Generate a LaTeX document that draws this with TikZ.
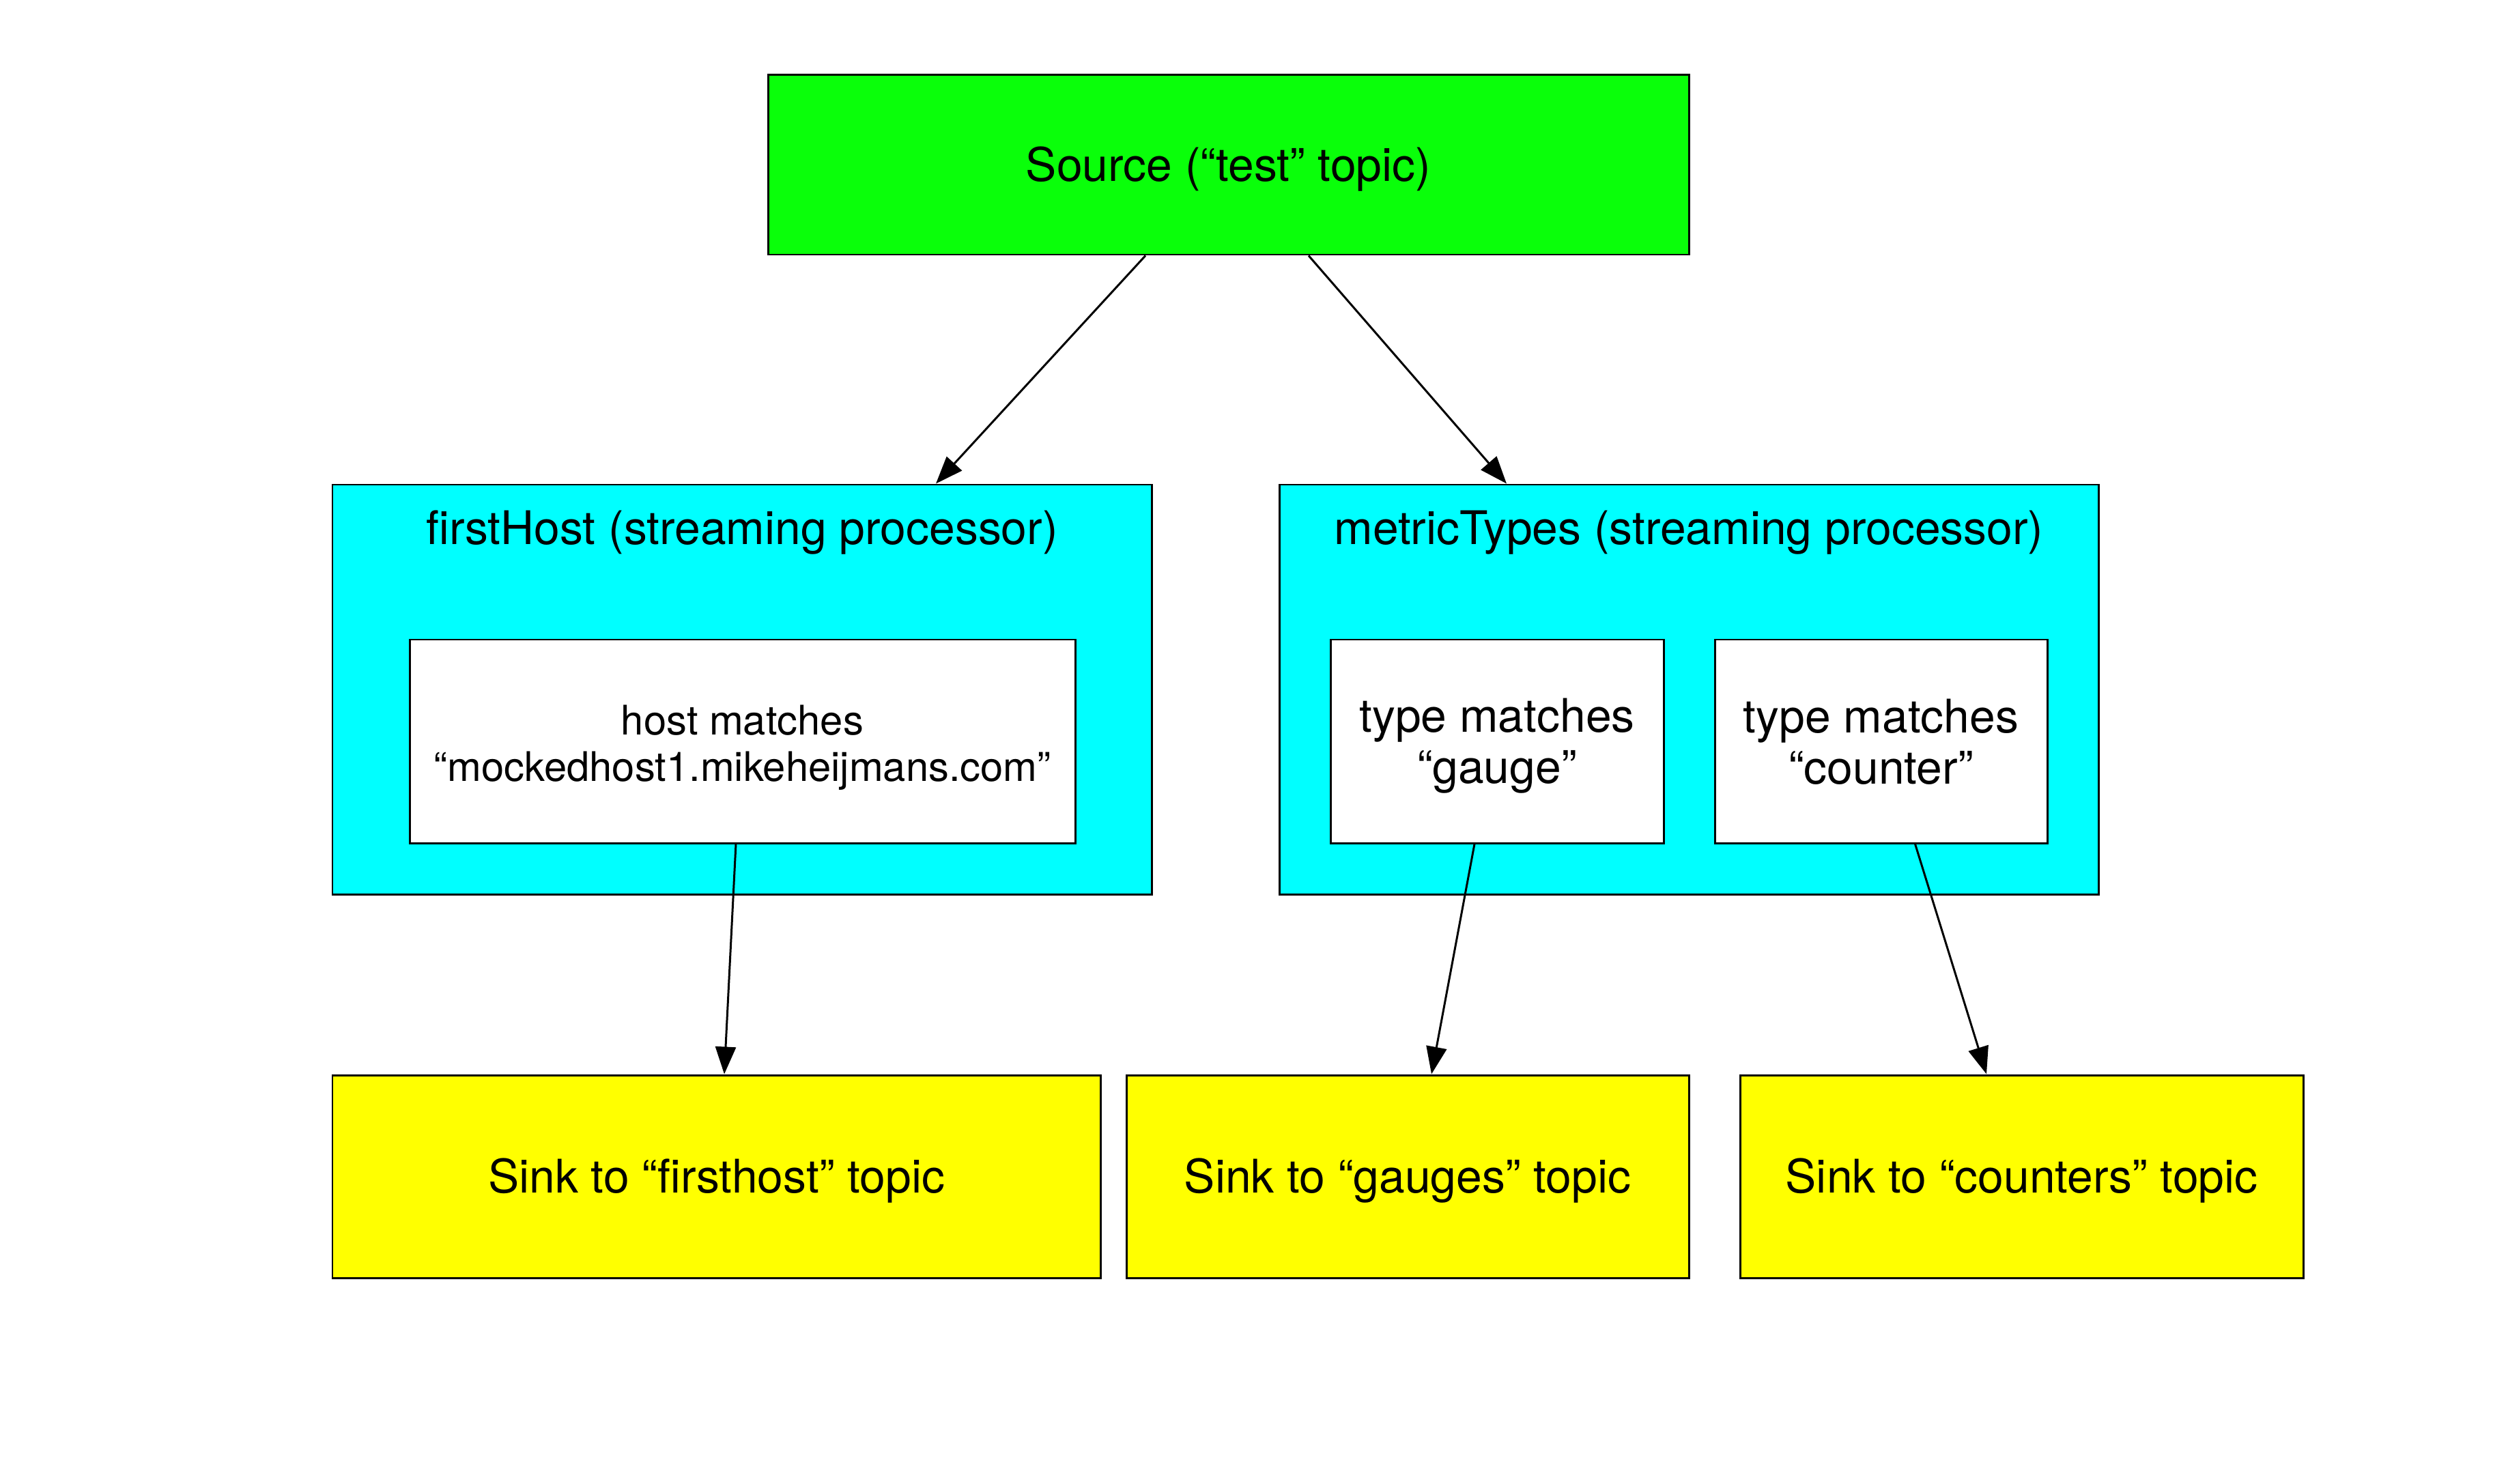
\documentclass[tikz,border=0pt]{standalone}
\usepackage{fontspec}
\setmainfont{TeX Gyre Heros}
\usetikzlibrary{arrows.meta,positioning,calc}
\definecolor{srcgreen}{RGB}{10,255,10}
\definecolor{proccyan}{RGB}{0,255,255}
\definecolor{sinkyellow}{RGB}{255,255,0}
\newcommand\topstrut{\rule{0pt}{18pt}}
\newcommand\botstrut{\rule[-4pt]{0pt}{4pt}}
\begin{document}
\begin{tikzpicture}[every node/.style={font=\fontsize{19.3pt}{21.3pt}\selectfont, inner sep=0pt, align=center},
		box/.style={draw, line width=0.85pt, rectangle},
		flow/.style={-{Triangle[length=0.4cm,width=0.3cm]}, line width=0.85pt}]
				\useasboundingbox (0,0) rectangle (36.74,-21.74);
				\node[box, fill=srcgreen, minimum width=13.49cm, minimum height=2.63cm] (src) at (17.995,-2.415) {\topstrut Source (“test” topic)\botstrut};
				\node[box, fill=proccyan, minimum width=12cm, minimum height=6cm] (firsthost) at (10.87,-10.1) {};
				\node (firsthosttitle) at (10.87,-7.80) {firstHost (streaming processor)};
				\node[box, fill=white, minimum width=9.75cm, minimum height=2.98cm, font=\fontsize{17pt}{19.3pt}\selectfont] (hostmatch) at (10.875,-10.86) {\topstrut host matches\\“mockedhost1.mikeheijmans.com”\botstrut};
				\node[box, fill=proccyan, minimum width=12cm, minimum height=6cm] (metrictypes) at (24.74,-10.1) {};
				\node (metrictypestitle) at (24.74,-7.80) {metricTypes (streaming processor)};
				\node[box, fill=white, minimum width=4.88cm, minimum height=2.98cm] (gauge) at (21.93,-10.86) {\topstrut type matches\\“gauge”\botstrut};
				\node[box, fill=white, minimum width=4.87cm, minimum height=2.98cm] (counter) at (27.555,-10.86) {\topstrut type matches\\“counter”\botstrut};
				\node[box, fill=sinkyellow, minimum width=11.25cm, minimum height=2.97cm] (sinkhost) at (10.495,-17.235) {\topstrut Sink to “firsthost” topic\botstrut};
				\node[box, fill=sinkyellow, minimum width=8.24cm, minimum height=2.97cm] (sinkgauges) at (20.62,-17.235) {\topstrut Sink to “gauges” topic\botstrut};
				\node[box, fill=sinkyellow, minimum width=8.25cm, minimum height=2.97cm] (sinkcounters) at (29.615,-17.235) {\topstrut Sink to “counters” topic\botstrut};
				\draw[flow] ([xshift=-1.215cm]src.south) -- ([xshift=2.84cm]firsthost.north);
				\draw[flow] ([xshift=1.175cm]src.south) -- ([xshift=-2.67cm]metrictypes.north);
				\draw[flow] ([xshift=-0.095cm]hostmatch.south) -- ([xshift=0.115cm]sinkhost.north);
				\draw[flow] ([xshift=-0.33cm]gauge.south) -- ([xshift=0.35cm]sinkgauges.north);
				\draw[flow] ([xshift=0.5cm]counter.south) -- ([xshift=-0.515cm]sinkcounters.north);
			\end{tikzpicture}
\end{document}
